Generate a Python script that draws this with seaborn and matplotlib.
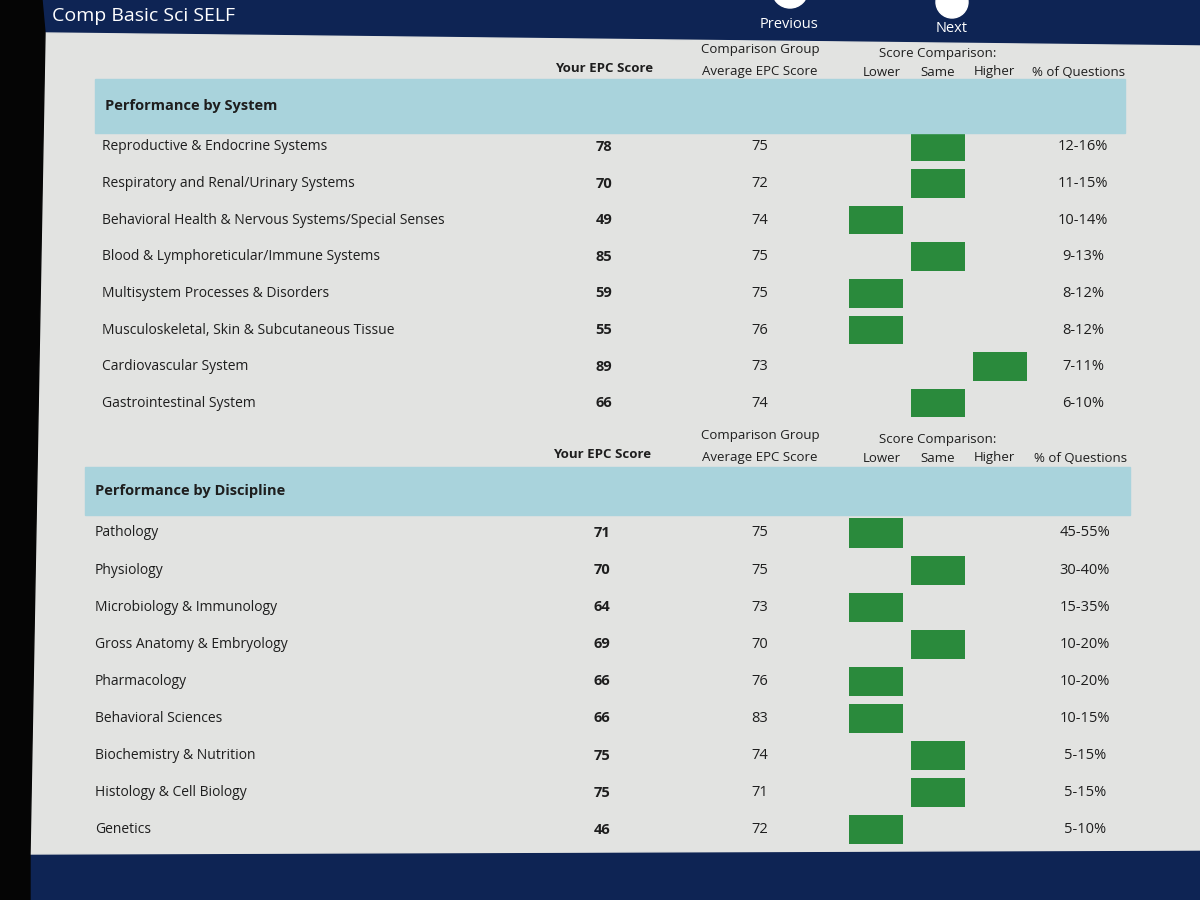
import numpy as np
import pandas as pd
import matplotlib.pyplot as plt
import matplotlib.patches as mpatches
import seaborn as sns

# ---- data ----
system_labels = ["Reproductive & Endocrine Systems",
                 "Respiratory and Renal/Urinary Systems",
                 "Behavioral Health & Nervous Systems/Special Senses",
                 "Blood & Lymphoreticular/Immune Systems",
                 "Multisystem Processes & Disorders",
                 "Musculoskeletal, Skin & Subcutaneous Tissue",
                 "Cardiovascular System",
                 "Gastrointestinal System"]
system_scores = [78, 70, 49, 85, 59, 55, 89, 66]
system_avg = [75, 72, 74, 75, 75, 76, 73, 74]
system_cmp = ["Same", "Same", "Lower", "Same", "Lower", "Lower", "Higher", "Same"]
system_pct = ["12-16%", "11-15%", "10-14%", "9-13%", "8-12%", "8-12%", "7-11%", "6-10%"]

disc_labels = ["Pathology", "Physiology", "Microbiology & Immunology",
               "Gross Anatomy & Embryology", "Pharmacology", "Behavioral Sciences",
               "Biochemistry & Nutrition", "Histology & Cell Biology", "Genetics"]
disc_scores = [71, 70, 64, 69, 66, 66, 75, 75, 46]
disc_avg = [75, 75, 73, 70, 76, 83, 74, 71, 72]
disc_cmp = ["Lower", "Same", "Lower", "Same", "Lower", "Lower", "Same", "Same", "Lower"]
disc_pct = ["45-55%", "30-40%", "15-35%", "10-20%", "10-20%", "10-15%", "5-15%", "5-15%", "5-10%"]

cmp_levels = ["Lower", "Same", "Higher"]

# ---- style ----
sns.set_theme(style="white")
plt.rcParams['font.family'] = ['Open Sans', 'DejaVu Sans']

NAVY = "#0e2454"
PANEL = "#e2e3e1"
BAND = "#a9d3dc"
GREEN = "#2a8a3c"
INK = "#1e1e1e"
W, H = 1200, 900

fig = plt.figure(figsize=(12, 9), dpi=100)
fig.patch.set_facecolor(NAVY)
ax = fig.add_axes([0, 0, 1, 1])
ax.set_xlim(0, W)
ax.set_ylim(H, 0)
ax.axis("off")

# frame / panel
ax.add_patch(mpatches.Rectangle((0, 0), W, H, color=NAVY, zorder=0))
ax.add_patch(mpatches.Polygon([[45, 33], [1200, 46], [1200, 850], [30, 854]],
                              closed=True, color=PANEL, zorder=1))
ax.add_patch(mpatches.Polygon([[0, 0], [42, 0], [45, 33], [30, 854], [30, 900], [0, 900]],
                              closed=True, color="#050505", zorder=2))
ax.text(52, 16, "Comp Basic Sci SELF", color="white", fontsize=14,
        va="center", ha="left", zorder=5)
ax.add_patch(mpatches.Circle((790, -10), 18, color="white", zorder=4))
ax.add_patch(mpatches.Circle((952, 2), 16, color="white", zorder=4))
ax.text(789, 25, "Previous", color="white", fontsize=10.5, ha="center", va="center", zorder=5)
ax.text(952, 28, "Next", color="white", fontsize=10.5, ha="center", va="center", zorder=5)

sections = []


def section(title, labels, scores, avgs, cmps, pcts, top, band_y, band_x, y0, dy,
            label_x, score_x, avg_x, pct_x, box_x):
    # column headers
    hdr_fs = 9.5
    ax.text(score_x, top + 20, "Your EPC Score", fontsize=hdr_fs, fontweight="bold",
            color=INK, ha="center", va="center", zorder=5)
    ax.text(avg_x, top, "Comparison Group", fontsize=hdr_fs, color=INK,
            ha="center", va="center", zorder=5)
    ax.text(avg_x, top + 22, "Average EPC Score", fontsize=hdr_fs, color=INK,
            ha="center", va="center", zorder=5)
    ax.text(box_x + 93, top + 4, "Score Comparison:", fontsize=hdr_fs, color=INK,
            ha="center", va="center", zorder=5)
    for k, lev in enumerate(cmp_levels):
        ax.text(box_x + 37 + 56 * k, top + 23, lev, fontsize=hdr_fs, color=INK,
                ha="center", va="center", zorder=5)
    ax.text(pct_x - 4, top + 24, "% of Questions", fontsize=hdr_fs, color=INK,
            ha="center", va="center", zorder=5)

    # rows
    for i, (lab, s, a, p) in enumerate(zip(labels, scores, avgs, pcts)):
        y = y0 + i * dy
        ax.text(label_x, y, lab, fontsize=10, color=INK, ha="left", va="center", zorder=5)
        ax.text(score_x, y, str(s), fontsize=10.5, fontweight="bold", color=INK,
                ha="center", va="center", zorder=5)
        ax.text(avg_x, y, str(a), fontsize=10.5, color=INK, ha="center", va="center", zorder=5)
        ax.text(pct_x, y, p, fontsize=10.5, color=INK, ha="center", va="center", zorder=5)

    # comparison boxes as a one-hot heatmap
    onehot = pd.DataFrame([[1 if c == lev else 0 for lev in cmp_levels] for c in cmps],
                          columns=cmp_levels)
    n = len(labels)
    y_top = y0 - dy / 2
    hw = 3 * 62
    hax = fig.add_axes([box_x / W, 1 - (y_top + n * dy) / H, hw / W, n * dy / H])
    sns.heatmap(onehot, mask=onehot == 0, cmap=[GREEN], cbar=False,
                linewidths=4.5, linecolor=PANEL, ax=hax)
    hax.set_facecolor("none")
    hax.axis("off")

    sections.append((title, band_y, band_x))


section("Performance by System", system_labels, system_scores, system_avg,
        system_cmp, system_pct, top=49, band_y=(79, 133), band_x=(95, 1125),
        y0=147, dy=36.6, label_x=102, score_x=604, avg_x=760, pct_x=1083, box_x=845)

section("Performance by Discipline", disc_labels, disc_scores, disc_avg,
        disc_cmp, disc_pct, top=435, band_y=(467, 515), band_x=(85, 1130),
        y0=533, dy=37.1, label_x=95, score_x=602, avg_x=760, pct_x=1085, box_x=845)

# section bands drawn on a top overlay
bax = fig.add_axes([0, 0, 1, 1])
bax.set_xlim(0, W)
bax.set_ylim(H, 0)
bax.set_facecolor("none")
bax.axis("off")
for title, band_y, band_x in sections:
    bax.add_patch(mpatches.Rectangle((band_x[0], band_y[0]), band_x[1] - band_x[0],
                                     band_y[1] - band_y[0], color=BAND))
    bax.text(band_x[0] + 10, (band_y[0] + band_y[1]) / 2, title, fontsize=10.5,
             fontweight="bold", color=INK, ha="left", va="center")

fig.savefig("out.png", dpi=100, facecolor=fig.get_facecolor())
